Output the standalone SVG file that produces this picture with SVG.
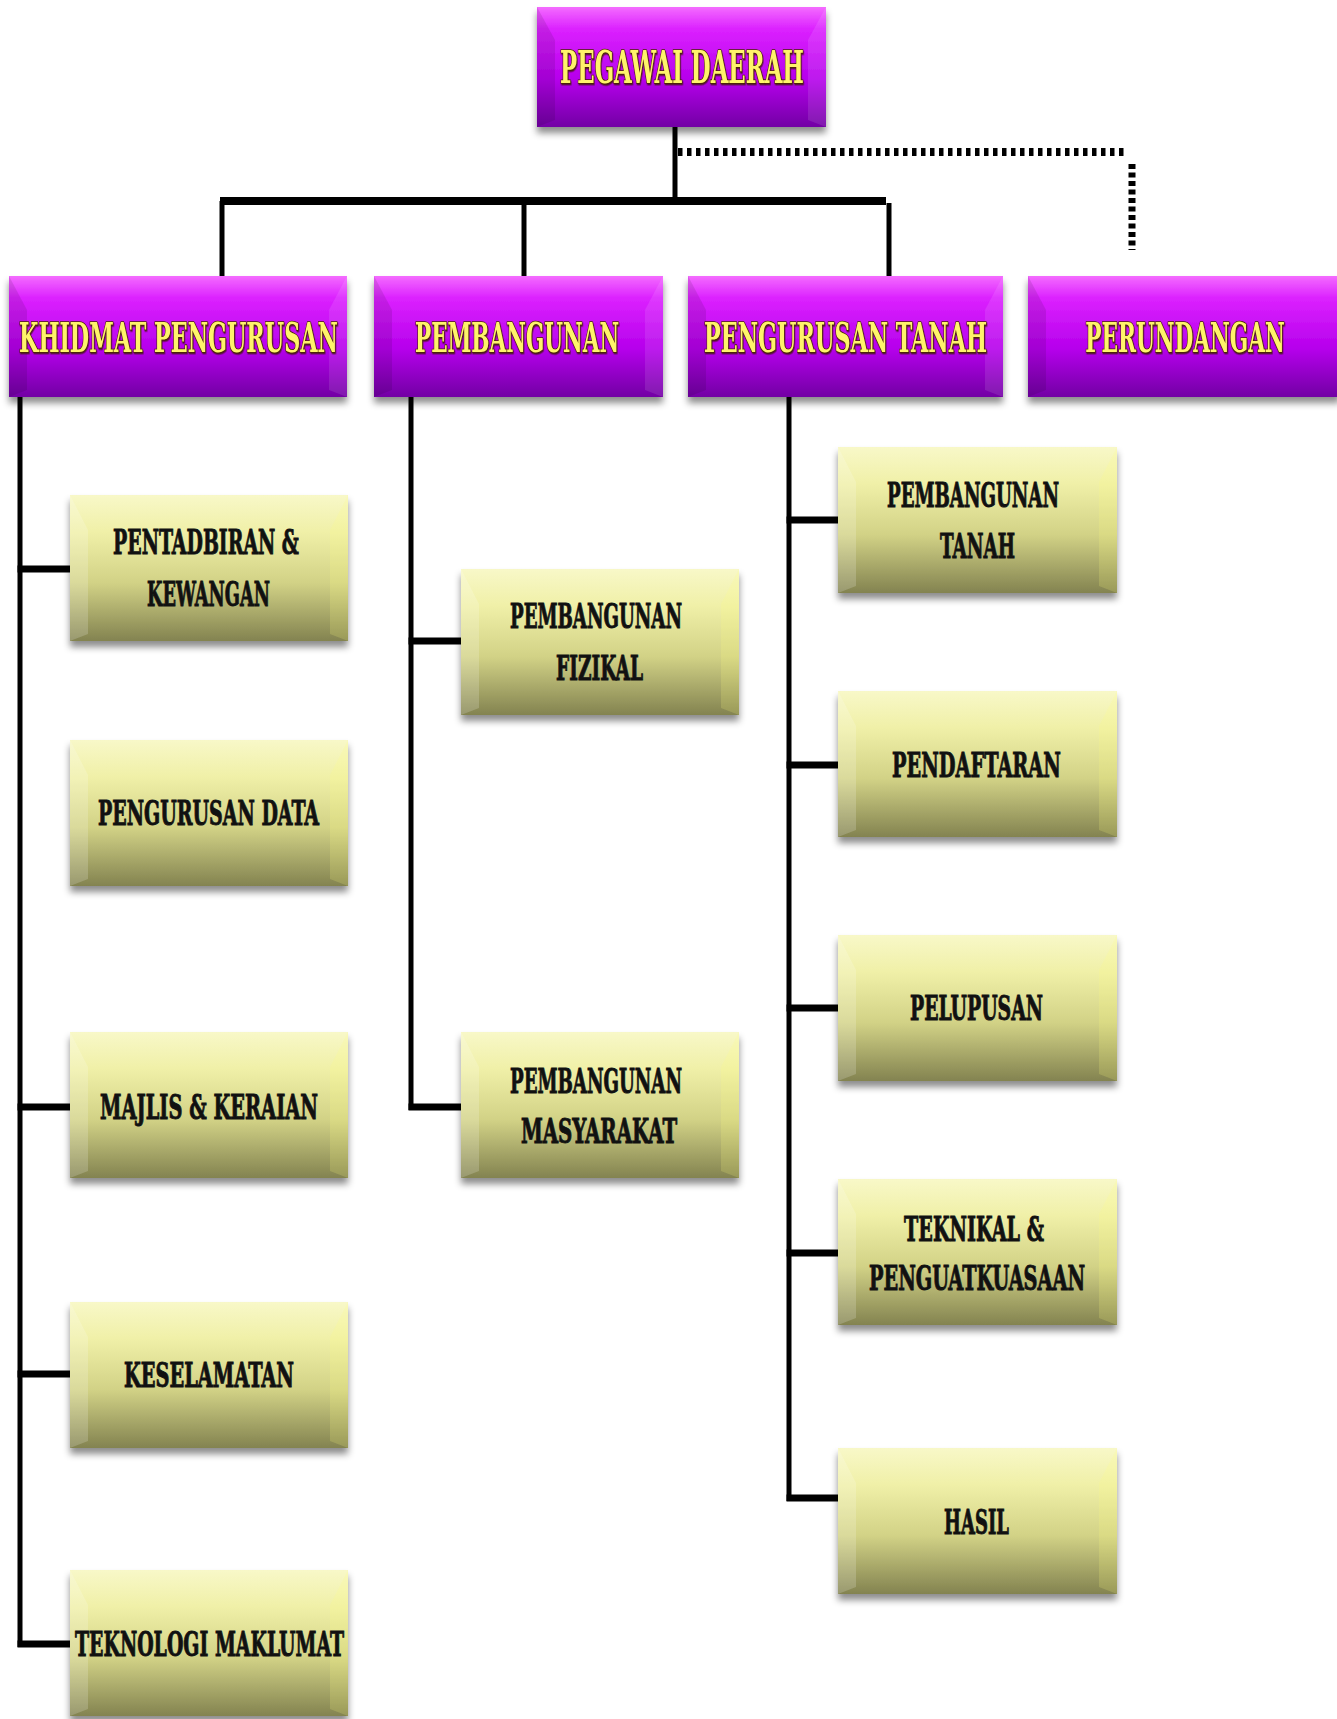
<svg xmlns="http://www.w3.org/2000/svg" width="1337" height="1719" viewBox="0 0 1337 1719">
  <defs>
    <linearGradient id="gPurple" x1="0" y1="0" x2="0" y2="1">
      <stop offset="0" stop-color="#f46cff"/>
      <stop offset="0.18" stop-color="#dc22ff"/>
      <stop offset="0.6" stop-color="#b600ec"/>
      <stop offset="1" stop-color="#7200a4"/>
    </linearGradient>
    <linearGradient id="gOlive" x1="0" y1="0" x2="0" y2="1">
      <stop offset="0" stop-color="#f8f8c8"/>
      <stop offset="0.25" stop-color="#f0f0a8"/>
      <stop offset="0.6" stop-color="#d2d286"/>
      <stop offset="1" stop-color="#838350"/>
    </linearGradient>
    <filter id="shadow" x="-10%" y="-10%" width="120%" height="130%">
      <feDropShadow dx="0" dy="6" stdDeviation="3.5" flood-color="#000" flood-opacity="0.45"/>
    </filter>
    <filter id="tshadow" x="-5%" y="-20%" width="110%" height="140%">
      <feDropShadow dx="1" dy="1.5" stdDeviation="0.6" flood-color="#3a1a00" flood-opacity="0.8"/>
    </filter>
  </defs>
  <style>
    .p { fill: url(#gPurple); filter: url(#shadow); }
    .o { fill: url(#gOlive); filter: url(#shadow); }
    .bevL { fill: #000; opacity: 0.10; }
    .bevR { fill: #fff; opacity: 0.10; }
    .bevLo { fill: #fff; opacity: 0.18; }
    .bevRo { fill: #ffff80; opacity: 0.18; }
    .t1, .t2, .t3 { font-family: 'DejaVu Serif Condensed', 'DejaVu Serif', 'Liberation Serif', serif; font-weight: bold; text-anchor: middle; }
    .t1 { font-size: 44px; fill: #fff36a; stroke: #4a2400; stroke-width: 1.6px; paint-order: stroke; filter: url(#tshadow); }
    .t2 { font-size: 41px; fill: #fff36a; stroke: #4a2400; stroke-width: 1.6px; paint-order: stroke; filter: url(#tshadow); }
    .t3 { font-size: 33px; fill: #111; stroke: #111; stroke-width: 0.9px; }
    .ln { stroke: #000; fill: none; stroke-width: 5; }
    .br { stroke: #000; fill: none; stroke-width: 7; }
    .bar { stroke: #000; fill: none; stroke-width: 8; }
    .dot { stroke: #000; fill: none; stroke-width: 8; stroke-dasharray: 4.5 4.5; }
    .dotv { stroke: #000; fill: none; stroke-width: 7; stroke-dasharray: 5 3.5; }
  </style>

  <g id="connectors">
    <path class="ln" d="M675 127 V201"/>
    <path class="bar" d="M220 201 H886"/>
    <path class="ln" d="M222 201 V276"/>
    <path class="ln" d="M524 201 V276"/>
    <path class="ln" d="M889 203 V276"/>
    <path class="dot" d="M678 152 H1128"/>
    <path class="dotv" d="M1132 164 V250"/>
    <path class="ln" d="M20 397 V1647"/>
    <path class="br" d="M17.5 569 H70"/>
    <path class="br" d="M17.5 1107 H70"/>
    <path class="br" d="M17.5 1374 H70"/>
    <path class="br" d="M17.5 1644 H70"/>
    <path class="ln" d="M411 397 V1110"/>
    <path class="br" d="M408.5 641 H461"/>
    <path class="br" d="M408.5 1107 H461"/>
    <path class="ln" d="M789 397 V1501"/>
    <path class="br" d="M786.5 520 H838"/>
    <path class="br" d="M786.5 765 H838"/>
    <path class="br" d="M786.5 1008 H838"/>
    <path class="br" d="M786.5 1253 H838"/>
    <path class="br" d="M786.5 1498 H838"/>
  </g>

  <g id="n-pegawai-daerah">
    <rect class="p" x="537" y="7" width="289" height="120"/>
    <polygon class="bevL" points="537,7 555,40 555,120 537,127"/>
    <polygon class="bevR" points="826,7 808,40 808,120 826,127"/>
    <text class="t1" transform="translate(682 83) scale(0.63 1)" textLength="387" lengthAdjust="spacingAndGlyphs">PEGAWAI DAERAH</text>
  </g>

  <g id="n-khidmat-pengurusan">
    <rect class="p" x="9" y="276" width="338" height="121"/>
    <polygon class="bevL" points="9,276 27,310 27,390 9,397"/>
    <polygon class="bevR" points="347,276 329,310 329,390 347,397"/>
    <text class="t2" transform="translate(178.5 352) scale(0.63 1)" textLength="506" lengthAdjust="spacingAndGlyphs">KHIDMAT PENGURUSAN</text>
  </g>
  <g id="n-pembangunan">
    <rect class="p" x="374" y="276" width="289" height="121"/>
    <polygon class="bevL" points="374,276 392,310 392,390 374,397"/>
    <polygon class="bevR" points="663,276 645,310 645,390 663,397"/>
    <text class="t2" transform="translate(517 352) scale(0.63 1)" textLength="324" lengthAdjust="spacingAndGlyphs">PEMBANGUNAN</text>
  </g>
  <g id="n-pengurusan-tanah">
    <rect class="p" x="688" y="276" width="315" height="121"/>
    <polygon class="bevL" points="688,276 706,310 706,390 688,397"/>
    <polygon class="bevR" points="1003,276 985,310 985,390 1003,397"/>
    <text class="t2" transform="translate(845.5 352) scale(0.63 1)" textLength="449" lengthAdjust="spacingAndGlyphs">PENGURUSAN TANAH</text>
  </g>
  <g id="n-perundangan">
    <rect class="p" x="1028" y="276" width="312" height="121"/>
    <polygon class="bevL" points="1028,276 1046,310 1046,390 1028,397"/>
    <text class="t2" transform="translate(1185 352) scale(0.63 1)" textLength="317" lengthAdjust="spacingAndGlyphs">PERUNDANGAN</text>
  </g>

  <g id="n-pentadbiran-kewangan">
    <rect class="o" x="70" y="495" width="278" height="146"/>
    <polygon class="bevLo" points="70,495 88,530 88,634 70,641"/>
    <polygon class="bevRo" points="348,495 330,530 330,634 348,641"/>
    <text class="t3" transform="translate(206 554) scale(0.63 1)" textLength="295" lengthAdjust="spacingAndGlyphs">PENTADBIRAN &amp;</text>
    <text class="t3" transform="translate(208.5 606) scale(0.63 1)" textLength="195" lengthAdjust="spacingAndGlyphs">KEWANGAN</text>
  </g>
  <g id="n-pengurusan-data">
    <rect class="o" x="70" y="740" width="278" height="146"/>
    <polygon class="bevLo" points="70,740 88,775 88,879 70,886"/>
    <polygon class="bevRo" points="348,740 330,775 330,879 348,886"/>
    <text class="t3" transform="translate(208.5 825) scale(0.63 1)" textLength="351" lengthAdjust="spacingAndGlyphs">PENGURUSAN DATA</text>
  </g>
  <g id="n-majlis-keraian">
    <rect class="o" x="70" y="1032" width="278" height="146"/>
    <polygon class="bevLo" points="70,1032 88,1067 88,1171 70,1178"/>
    <polygon class="bevRo" points="348,1032 330,1067 330,1171 348,1178"/>
    <text class="t3" transform="translate(209 1119) scale(0.63 1)" textLength="346" lengthAdjust="spacingAndGlyphs">MAJLIS &amp; KERAIAN</text>
  </g>
  <g id="n-keselamatan">
    <rect class="o" x="70" y="1302" width="278" height="146"/>
    <polygon class="bevLo" points="70,1302 88,1337 88,1441 70,1448"/>
    <polygon class="bevRo" points="348,1302 330,1337 330,1441 348,1448"/>
    <text class="t3" transform="translate(209 1387) scale(0.63 1)" textLength="270" lengthAdjust="spacingAndGlyphs">KESELAMATAN</text>
  </g>
  <g id="n-teknologi-maklumat">
    <rect class="o" x="70" y="1570" width="278" height="146"/>
    <polygon class="bevLo" points="70,1570 88,1605 88,1709 70,1716"/>
    <polygon class="bevRo" points="348,1570 330,1605 330,1709 348,1716"/>
    <text class="t3" transform="translate(209.5 1656) scale(0.63 1)" textLength="427" lengthAdjust="spacingAndGlyphs">TEKNOLOGI MAKLUMAT</text>
  </g>

  <g id="n-pembangunan-fizikal">
    <rect class="o" x="461" y="569" width="278" height="146"/>
    <polygon class="bevLo" points="461,569 479,604 479,708 461,715"/>
    <polygon class="bevRo" points="739,569 721,604 721,708 739,715"/>
    <text class="t3" transform="translate(596 628) scale(0.63 1)" textLength="273" lengthAdjust="spacingAndGlyphs">PEMBANGUNAN</text>
    <text class="t3" transform="translate(599.5 680) scale(0.63 1)" textLength="138" lengthAdjust="spacingAndGlyphs">FIZIKAL</text>
  </g>
  <g id="n-pembangunan-masyarakat">
    <rect class="o" x="461" y="1032" width="278" height="146"/>
    <polygon class="bevLo" points="461,1032 479,1067 479,1171 461,1178"/>
    <polygon class="bevRo" points="739,1032 721,1067 721,1171 739,1178"/>
    <text class="t3" transform="translate(596 1093) scale(0.63 1)" textLength="273" lengthAdjust="spacingAndGlyphs">PEMBANGUNAN</text>
    <text class="t3" transform="translate(599 1143) scale(0.63 1)" textLength="248" lengthAdjust="spacingAndGlyphs">MASYARAKAT</text>
  </g>

  <g id="n-pembangunan-tanah">
    <rect class="o" x="838" y="447" width="279" height="146"/>
    <polygon class="bevLo" points="838,447 856,482 856,586 838,593"/>
    <polygon class="bevRo" points="1117,447 1099,482 1099,586 1117,593"/>
    <text class="t3" transform="translate(973 507) scale(0.63 1)" textLength="273" lengthAdjust="spacingAndGlyphs">PEMBANGUNAN</text>
    <text class="t3" transform="translate(977.5 558) scale(0.63 1)" textLength="119" lengthAdjust="spacingAndGlyphs">TANAH</text>
  </g>
  <g id="n-pendaftaran">
    <rect class="o" x="838" y="691" width="279" height="146"/>
    <polygon class="bevLo" points="838,691 856,726 856,830 838,837"/>
    <polygon class="bevRo" points="1117,691 1099,726 1099,830 1117,837"/>
    <text class="t3" transform="translate(976.5 777) scale(0.63 1)" textLength="268" lengthAdjust="spacingAndGlyphs">PENDAFTARAN</text>
  </g>
  <g id="n-pelupusan">
    <rect class="o" x="838" y="935" width="279" height="146"/>
    <polygon class="bevLo" points="838,935 856,970 856,1074 838,1081"/>
    <polygon class="bevRo" points="1117,935 1099,970 1099,1074 1117,1081"/>
    <text class="t3" transform="translate(976.5 1020) scale(0.63 1)" textLength="211" lengthAdjust="spacingAndGlyphs">PELUPUSAN</text>
  </g>
  <g id="n-teknikal-penguatkuasaan">
    <rect class="o" x="838" y="1179" width="279" height="146"/>
    <polygon class="bevLo" points="838,1179 856,1214 856,1318 838,1325"/>
    <polygon class="bevRo" points="1117,1179 1099,1214 1099,1318 1117,1325"/>
    <text class="t3" transform="translate(974 1241) scale(0.63 1)" textLength="222" lengthAdjust="spacingAndGlyphs">TEKNIKAL &amp;</text>
    <text class="t3" transform="translate(977 1290) scale(0.63 1)" textLength="343" lengthAdjust="spacingAndGlyphs">PENGUATKUASAAN</text>
  </g>
  <g id="n-hasil">
    <rect class="o" x="838" y="1448" width="279" height="146"/>
    <polygon class="bevLo" points="838,1448 856,1483 856,1587 838,1594"/>
    <polygon class="bevRo" points="1117,1448 1099,1483 1099,1587 1117,1594"/>
    <text class="t3" transform="translate(976.5 1534) scale(0.63 1)" textLength="103" lengthAdjust="spacingAndGlyphs">HASIL</text>
  </g>
</svg>
